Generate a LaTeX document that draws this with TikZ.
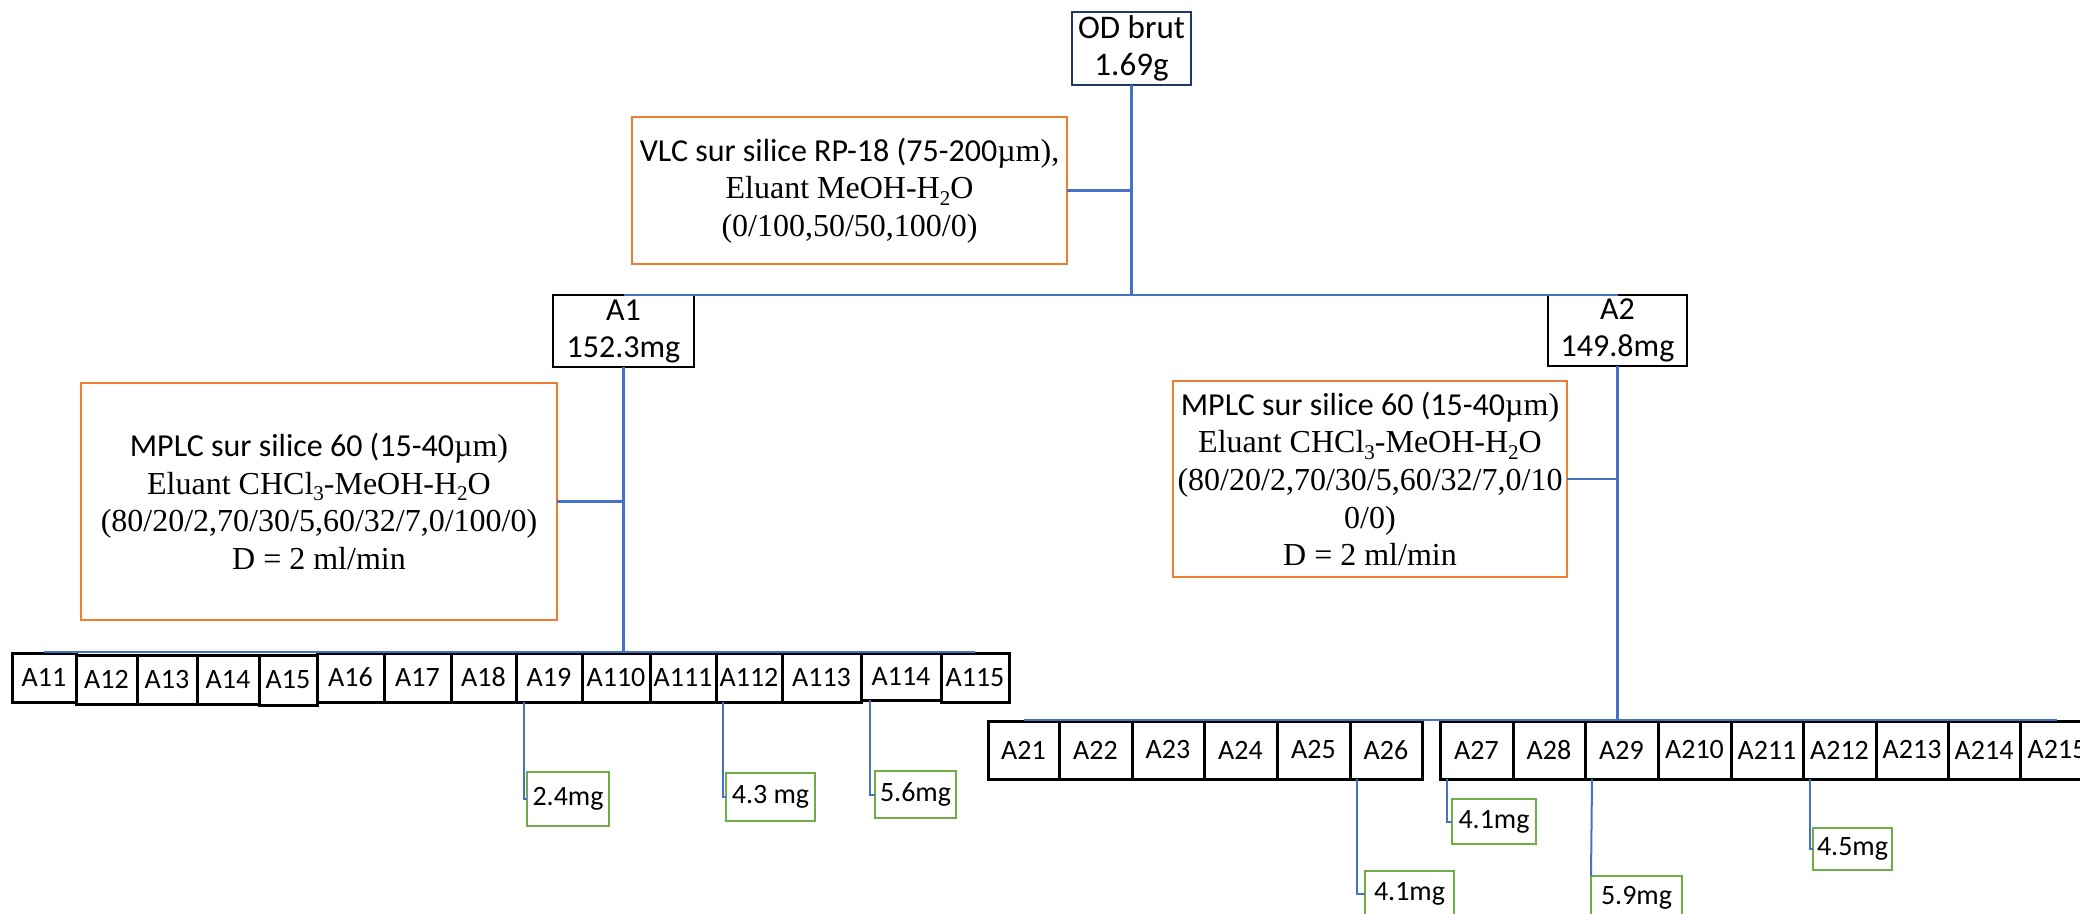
\documentclass[tikz,border=0pt]{standalone}
\usepackage{fontspec}
\setmainfont{Liberation Serif}
\newfontfamily\calib{Carlito}
\usetikzlibrary{calc}
\definecolor{navyb}{HTML}{203864}
\definecolor{orangeb}{HTML}{ED7D31}
\definecolor{bluel}{HTML}{4472C4}
\definecolor{greenb}{HTML}{70AD47}
\newcommand\sbs[1]{\raisebox{-3.2pt}{\fontsize{10.5}{10.5}\selectfont #1}}
\newcommand\bx[7]{\node[#1, minimum width={(#4-#3)*0.5pt}, minimum height={(#6-#5)*0.5pt}] (#2) at ({(#3+#4)/2},{(#5+#6)/2}) {#7};}
\tikzset{
  basebox/.style={draw, inner sep=0pt, outer sep=0pt, align=center, text=black},
  navybox/.style={basebox, draw=navyb, line width=1.4pt, font=\calib\fontsize{16.5}{18.5}\selectfont},
  blackbox/.style={basebox, draw=black, line width=1.4pt, font=\calib\fontsize{16}{18.5}\selectfont},
  orangebox/.style={basebox, draw=orangeb, line width=1.2pt, font=\fontsize{16}{18.8}\selectfont},
  rowbox/.style={basebox, draw=black, line width=1.5pt, font=\calib\fontsize{14}{16}\selectfont},
  greenbox/.style={basebox, draw=greenb, line width=1.4pt, font=\calib\fontsize{14}{16}\selectfont},
  conn/.style={draw=bluel, line width=1.4pt},
  thinconn/.style={draw=bluel, line width=1pt},
}
\begin{document}
\begin{tikzpicture}[x=0.5pt, y=-0.5pt]
\useasboundingbox (0,0) rectangle (2080,914);
\clip (0,0) rectangle (2080,914);
\fill[white] (0,0) rectangle (2080,914);
% top level
\bx{navybox}{OD}{1072}{1191}{12}{85}{OD brut\\1.69g}
\bx{orangebox}{VLC}{632}{1067}{117}{264}{{\calib VLC sur silice RP-18 (75-200}µm),\\Eluant MeOH-H\sbs{2}O\\(0/100,50/50,100/0)}
\bx{blackbox}{A1}{553}{694}{295}{367}{A1\\152.3mg}
\bx{blackbox}{A2}{1548}{1687}{295}{366}{A2\\149.8mg}
\bx{orangebox}{MPLCa}{81}{557}{383}{620}{{\calib MPLC sur silice 60 (15-40}µm)\\Eluant CHCl\sbs{3}-MeOH-H\sbs{2}O\\(80/20/2,70/30/5,60/32/7,0/100/0)\\D = 2 ml/min}
\bx{orangebox}{MPLCb}{1173}{1567}{381}{577}{{\calib MPLC sur silice 60 (15-40}µm)\\Eluant CHCl\sbs{3}-MeOH-H\sbs{2}O\\(80/20/2,70/30/5,60/32/7,0/10\\0/0)\\D = 2 ml/min}
% row 1
\bx{rowbox}{A11}{12}{76}{653}{702}{A11}
\bx{rowbox}{A12}{76}{137}{655}{704}{A12}
\bx{rowbox}{A13}{137}{197}{655}{704}{A13}
\bx{rowbox}{A14}{197}{259}{655}{704}{A14}
\bx{rowbox}{A15}{259}{317}{655}{705}{A15}
\bx{rowbox}{A16}{317}{384}{653}{702}{A16}
\bx{rowbox}{A17}{384}{451}{653}{702}{A17}
\bx{rowbox}{A18}{451}{516}{653}{702}{A18}
\bx{rowbox}{A19}{516}{582}{653}{702}{A19}
\bx{rowbox}{A110}{582}{650}{653}{702}{A110}
\bx{rowbox}{A111}{650}{716}{653}{702}{A111}
\bx{rowbox}{A112}{716}{782}{653}{702}{A112}
\bx{rowbox}{A113}{782}{861}{653}{702}{A113}
\bx{rowbox}{A114}{861}{941}{653}{700}{A114}
\bx{rowbox}{A115}{941}{1009}{653}{702}{A115}
% row 2
\bx{rowbox}{A21}{988}{1059}{721}{779}{A21}
\bx{rowbox}{A22}{1059}{1132}{721}{779}{A22}
\bx{rowbox}{A23}{1132}{1204}{721}{779}{A23}
\bx{rowbox}{A24}{1204}{1277}{721}{779}{A24}
\bx{rowbox}{A25}{1277}{1350}{721}{779}{A25}
\bx{rowbox}{A26}{1350}{1422}{721}{779}{A26}
\bx{rowbox}{A27}{1440}{1513}{721}{779}{A27}
\bx{rowbox}{A28}{1513}{1585}{721}{779}{A28}
\bx{rowbox}{A29}{1585}{1658}{721}{779}{A29}
\bx{rowbox}{A210}{1658}{1731}{721}{779}{A210}
\bx{rowbox}{A211}{1731}{1803}{721}{779}{A211}
\bx{rowbox}{A212}{1803}{1876}{721}{779}{A212}
\bx{rowbox}{A213}{1876}{1948}{721}{779}{A213}
\bx{rowbox}{A214}{1948}{2020}{721}{779}{A214}
\bx{rowbox}{A215}{2020}{2094}{721}{779}{A215}
% green results
\bx{greenbox}{g1}{527}{609}{772}{826}{2.4mg}
\bx{greenbox}{g2}{726}{815}{773}{821}{4.3 mg}
\bx{greenbox}{g3}{875}{956}{771}{818}{5.6mg}
\bx{greenbox}{g4}{1365}{1454}{871}{917}{4.1mg}
\bx{greenbox}{g5}{1452}{1536}{799}{844}{4.1mg}
\bx{greenbox}{g6}{1591}{1682}{876}{920}{5.9mg}
\bx{greenbox}{g7}{1813}{1892}{828}{870}{4.5mg}
% connectors
\draw[conn] (OD.south) -- (OD.south |- A1.north);
\draw[conn] (A1.north) -- (A2.north);
\draw[conn] (VLC.east) -- (VLC.east -| OD.south);
\draw[conn] (A1.south) -- ($(A1.south |- A11.north)+(0,-1)$);
\draw[conn] (MPLCa.east) -- (MPLCa.east -| A1.south);
\draw[conn] ($(A11.north)+(0,-1)$) -- ($(A115.north)+(0,-1)$);
\draw[conn] (A2.south) -- ($(A2.south |- A21.north)+(0,-1)$);
\draw[conn] (MPLCb.east) -- (MPLCb.east -| A2.south);
\draw[conn] ($(A21.north)+(0,-1)$) -- ($(A215.north)+(0,-1)$);
\draw[thinconn] ($(A19.south west)+(8,0)$) |- (g1.west);
\draw[thinconn] ($(A112.south west)+(7,0)$) |- (g2.west);
\draw[thinconn] ($(A114.south west)+(9,0)$) |- (g3.west);
\draw[thinconn] ($(A26.south west)+(7,0)$) |- (g4.west);
\draw[thinconn] ($(A27.south west)+(7,0)$) |- (g5.west);
\draw[thinconn] ($(A29.south west)+(7,0)$) -- (g6.north west);
\draw[thinconn] ($(A212.south west)+(7,0)$) |- (g7.west);
\end{tikzpicture}
\end{document}
